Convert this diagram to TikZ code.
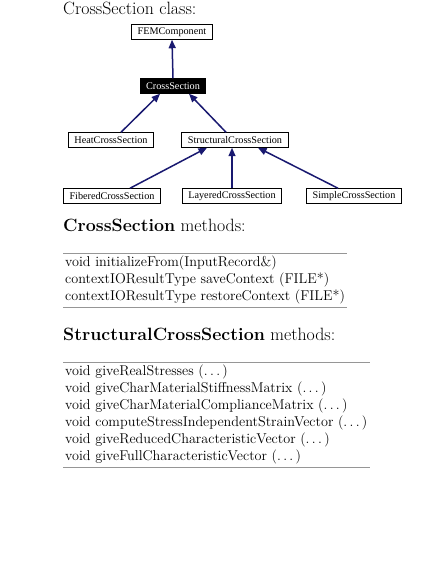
\documentclass[tikz,border=0pt]{standalone}
\usepackage{fontspec}
\newfontfamily\boxfont{Liberation Serif}
\usetikzlibrary{arrows.meta}
\definecolor{edgeblue}{RGB}{25,25,112}
\definecolor{rulegray}{RGB}{150,150,150}
\newcommand\mydots{\mbox{.\kern\fontdimen3\font.\kern\fontdimen3\font.\kern\fontdimen3\font}}
\begin{document}
\begin{tikzpicture}[x=1pt,y=-1pt,
  cls/.style={draw=black,line width=1pt,fill=white,font=\boxfont\fontsize{10.2}{12}\selectfont,
    inner xsep=6pt,inner ysep=0pt,minimum height=14.5pt},
  clsmain/.style={cls,fill=black,text=white},
  inherit/.style={draw=edgeblue,line width=1.5pt,-{Triangle[length=8.5pt,width=7pt]}},
  heading/.style={anchor=base west,inner sep=0pt,font=\fontsize{17.8}{21}\selectfont},
  methods/.style={anchor=north west,align=left,inner xsep=2pt,inner ysep=3pt,
    font=\fontsize{14.2}{17}\selectfont},
  rule/.style={draw=rulegray,line width=1pt}]
\useasboundingbox (0,0) rectangle (446,577);
\node[heading] (title) at (63,15) {CrossSection class:};
\node[cls] (fem) at (172,32) {FEMComponent};
\node[clsmain] (cs) at (173,86) {CrossSection};
\node[cls] (heat) at (111,140) {HeatCrossSection};
\node[cls] (struct) at (235,140) {StructuralCrossSection};
\node[cls] (fib) at (112,196) {FiberedCrossSection};
\node[cls] (lay) at (232,196) {LayeredCrossSection};
\node[cls] (simple) at (354,196) {SimpleCrossSection};
\draw[inherit] (cs.north) -- (fem.south);
\draw[inherit] ([xshift=10pt]heat.north) -- ([xshift=-13pt]cs.south);
\draw[inherit] ([xshift=-9pt]struct.north) -- ([xshift=16pt]cs.south);
\draw[inherit] ([xshift=18pt]fib.north) -- ([xshift=-28pt]struct.south);
\draw[inherit] (lay.north) -- (lay.north |- struct.south);
\draw[inherit] ([xshift=-16pt]simple.north) -- ([xshift=23pt]struct.south);

\node[heading] (h1) at (63,231) {\textbf{CrossSection} methods:};
\node[methods] (m1) at (63,253) {void initializeFrom(InputRecord\&)\\
contextIOResultType saveContext (FILE*)\\
contextIOResultType restoreContext (FILE*)};
\draw[rule] (m1.north west) -- (m1.north east);
\draw[rule] (m1.south west) -- (m1.south east);

\node[heading] (h2) at (63,340) {\textbf{StructuralCrossSection} methods:};
\node[methods] (m2) at (63,362) {void giveRealStresses (\mydots)\\
void giveCharMaterialStiffnessMatrix (\mydots)\\
void giveCharMaterialComplianceMatrix (\mydots)\\
void computeStressIndependentStrainVector (\mydots)\\
void giveReducedCharacteristicVector (\mydots)\\
void giveFullCharacteristicVector (\mydots)};
\draw[rule] (m2.north west) -- (m2.north east);
\draw[rule] (m2.south west) -- (m2.south east);
\end{tikzpicture}
\end{document}
